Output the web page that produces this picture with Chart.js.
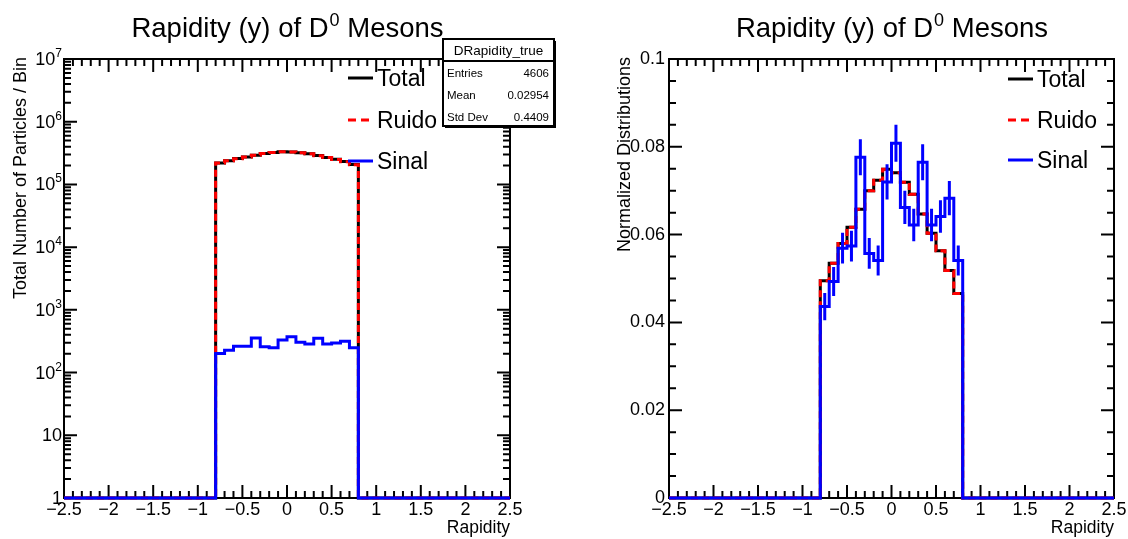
<!DOCTYPE html>
<html>
<head>
<meta charset="utf-8">
<script src="https://cdn.jsdelivr.net/npm/chart.js@4.4.1/dist/chart.umd.min.js"></script>
<style>
  html, body { margin: 0; padding: 0; background: #fff; }
  #wrap { position: relative; width: 1128px; height: 539px; }
  canvas { position: absolute; top: 0; }
  #left { left: 0; }
  #right { left: 564px; }
</style>
</head>
<body>
<div id="wrap">
  <canvas id="left" width="564" height="539"></canvas>
  <canvas id="right" width="564" height="539"></canvas>
</div>
<script>
// histogram range and the filled bins (width 0.1)
const xRange = [-2.5, 2.5];
const binEdges = [-0.8, -0.7, -0.6, -0.5, -0.4, -0.3, -0.2, -0.1, 0, 0.1, 0.2, 0.3, 0.4, 0.5, 0.6, 0.7, 0.8];

// left pad: counts per bin (log scale)
const totalCounts = [220000, 238000, 258000, 275000, 293000, 312000, 322000, 333000, 330000, 320000, 308000, 288000, 268000, 251000, 231000, 207000];
const ruidoCounts = [219800, 237770, 257740, 274740, 292640, 311740, 321750, 332670, 329630, 319700, 307710, 287650, 267710, 250700, 230690, 206750];
const sinalCounts = [201, 227, 262, 264, 357, 257, 249, 332, 372, 305, 286, 352, 286, 295, 315, 249];

// right pad: normalized distributions
const totalNorm = [0.0495, 0.0535, 0.0580, 0.0617, 0.0658, 0.0700, 0.0724, 0.0749, 0.0741, 0.0719, 0.0692, 0.0647, 0.0603, 0.0563, 0.0518, 0.0466];
const ruidoNorm = [0.0495, 0.0535, 0.0580, 0.0617, 0.0658, 0.0700, 0.0724, 0.0749, 0.0741, 0.0719, 0.0692, 0.0647, 0.0603, 0.0563, 0.0518, 0.0466];
const sinalNorm = [0.0436, 0.0493, 0.0569, 0.0574, 0.0776, 0.0557, 0.0541, 0.0720, 0.0808, 0.0662, 0.0622, 0.0765, 0.0622, 0.0641, 0.0683, 0.0541];
const sinalNormErr = [0.0031, 0.0033, 0.0035, 0.0035, 0.0041, 0.0035, 0.0034, 0.0040, 0.0042, 0.0038, 0.0037, 0.0041, 0.0037, 0.0037, 0.0039, 0.0034];

// axis ticks
const xMajorTicks = [-2.5, -2, -1.5, -1, -0.5, 0, 0.5, 1, 1.5, 2, 2.5];
const logDecades = [0, 1, 2, 3, 4, 5, 6, 7];
const normTicks = [0, 0.02, 0.04, 0.06, 0.08, 0.1];

const legendLabels = ['Total', 'Ruido', 'Sinal'];
const statsTitle = 'DRapidity_true';
const statsRows = [['Entries', '4606'], ['Mean', '0.02954'], ['Std Dev', '0.4409']];

const FONT = "'Liberation Sans', Arial, Helvetica, sans-serif";
Chart.defaults.font.family = FONT;
Chart.defaults.color = '#000';

// empty bins sit on the axis floor (like ROOT does on a log pad)
function stepPoints(values, floor) {
  const last = binEdges[binEdges.length - 1];
  const pts = [{ x: xRange[0], y: floor }, { x: binEdges[0], y: floor }];
  values.forEach((v, i) => {
    pts.push({ x: binEdges[i], y: v });
    pts.push({ x: binEdges[i + 1], y: v });
  });
  pts.push({ x: last, y: floor }, { x: xRange[1], y: floor });
  return pts;
}

function datasets(total, ruido, sinal, floor) {
  const base = { pointRadius: 0, borderWidth: 3, tension: 0, fill: false, clip: 4, borderJoinStyle: 'miter' };
  return [
    Object.assign({ label: legendLabels[0], data: stepPoints(total, floor), borderColor: '#000000', order: 3 }, base),
    Object.assign({ label: legendLabels[1], data: stepPoints(ruido, floor), borderColor: '#ff0000', borderDash: [7, 4], order: 2 }, base),
    Object.assign({ label: legendLabels[2], data: stepPoints(sinal, floor), borderColor: '#0000ff', order: 1 }, base)
  ];
}

function fmtNum(v) {
  return (v < 0 ? '\u2212' : '') + String(Math.abs(Math.round(v * 100) / 100));
}

// ROOT-like frame with inward ticks on all four sides
const rootFrame = {
  id: 'rootFrame',
  beforeDatasetsDraw(chart, args, opts) {
    const { ctx, chartArea: a, scales: { x, y } } = chart;
    ctx.save();
    ctx.strokeStyle = '#000';
    ctx.lineWidth = 2;
    ctx.strokeRect(a.left, a.top, a.right - a.left, a.bottom - a.top);
    ctx.beginPath();
    for (let i = 0; i <= 50; i++) {
      const px = x.getPixelForValue(xRange[0] + i * 0.1);
      const len = i % 5 === 0 ? 13 : 7;
      ctx.moveTo(px, a.bottom); ctx.lineTo(px, a.bottom - len);
      ctx.moveTo(px, a.top); ctx.lineTo(px, a.top + len);
    }
    opts.yTicks().forEach(([v, major]) => {
      const py = y.getPixelForValue(v);
      const len = major ? 13 : 7;
      ctx.moveTo(a.left, py); ctx.lineTo(a.left + len, py);
      ctx.moveTo(a.right, py); ctx.lineTo(a.right - len, py);
    });
    ctx.stroke();
    ctx.restore();
  },
  afterDatasetsDraw(chart, args, opts) {
    if (!opts.errors) return;
    const { ctx, scales: { x, y } } = chart;
    const e = opts.errors;
    ctx.save();
    ctx.strokeStyle = '#0000ff';
    ctx.lineWidth = 3;
    ctx.beginPath();
    e.values.forEach((v, i) => {
      const cx = x.getPixelForValue((binEdges[i] + binEdges[i + 1]) / 2);
      ctx.moveTo(cx, y.getPixelForValue(v - e.err[i]));
      ctx.lineTo(cx, y.getPixelForValue(v + e.err[i]));
    });
    ctx.stroke();
    ctx.restore();
  },
  afterDraw(chart, args, opts) {
    const { ctx, chartArea: a, scales: { y } } = chart;
    ctx.save();
    ctx.fillStyle = '#000';
    ctx.textBaseline = 'alphabetic';

    // title with superscript
    const t1 = 'Rapidity (y) of D', t2 = '0', t3 = ' Mesons';
    ctx.font = '27.5px ' + FONT;
    const w1 = ctx.measureText(t1).width, w3 = ctx.measureText(t3).width;
    ctx.font = '18px ' + FONT;
    const w2 = ctx.measureText(t2).width;
    const tx = (a.left + a.right) / 2 - (w1 + w2 + w3) / 2;
    ctx.textAlign = 'left';
    ctx.font = '27.5px ' + FONT;
    ctx.fillText(t1, tx, 37);
    ctx.font = '18px ' + FONT;
    ctx.fillText(t2, tx + w1 + 1, 26);
    ctx.font = '27.5px ' + FONT;
    ctx.fillText(t3, tx + w1 + w2 + 1, 37);

    // axis titles
    ctx.font = '17.5px ' + FONT;
    ctx.textAlign = 'right';
    ctx.fillText('Rapidity', a.right, 533);
    ctx.save();
    ctx.translate(opts.yTitleX, a.top - 2);
    ctx.rotate(-Math.PI / 2);
    ctx.font = '18px ' + FONT;
    ctx.textAlign = 'right';
    ctx.fillText(opts.yTitle, 0, 0);
    ctx.restore();

    // log labels 1, 10, 10^n
    if (opts.logLabels) {
      const rx = a.left - 2;
      logDecades.forEach(d => {
        const py = y.getPixelForValue(Math.pow(10, d));
        ctx.textAlign = 'right';
        if (d < 2) {
          ctx.font = '18px ' + FONT;
          ctx.fillText(d === 0 ? '1' : '10', rx, py + 6);
        } else {
          ctx.font = '12px ' + FONT;
          const sw = ctx.measureText(String(d)).width;
          ctx.fillText(String(d), rx, py - 2);
          ctx.font = '18px ' + FONT;
          ctx.fillText('10', rx - sw, py + 6);
        }
      });
    }

    // legend
    const lg = opts.legend;
    chart.data.datasets.forEach((ds, i) => {
      const ly = lg.rows[i];
      ctx.save();
      ctx.strokeStyle = ds.borderColor;
      ctx.lineWidth = 3;
      if (ds.borderDash) ctx.setLineDash([8, 5]);
      ctx.beginPath();
      ctx.moveTo(lg.x0, ly); ctx.lineTo(lg.x1, ly);
      ctx.stroke();
      ctx.restore();
      ctx.font = '23px ' + FONT;
      ctx.textAlign = 'left';
      ctx.fillText(ds.label, lg.x1 + 4, ly + 8);
    });

    // stats box
    if (opts.stats) {
      const s = opts.stats;
      ctx.fillStyle = '#000';
      ctx.fillRect(s.x + 2, s.y + 2, s.w, s.h);
      ctx.fillStyle = '#fff';
      ctx.fillRect(s.x, s.y, s.w, s.h);
      ctx.strokeStyle = '#000';
      ctx.lineWidth = 2;
      ctx.strokeRect(s.x, s.y, s.w, s.h);
      ctx.beginPath();
      ctx.moveTo(s.x, s.y + 22); ctx.lineTo(s.x + s.w, s.y + 22);
      ctx.stroke();
      ctx.fillStyle = '#000';
      ctx.font = '13.5px ' + FONT;
      ctx.textAlign = 'center';
      ctx.fillText(statsTitle, s.x + s.w / 2, s.y + 16);
      ctx.font = '11.5px ' + FONT;
      statsRows.forEach(([k, v], i) => {
        const ry = s.y + 38 + i * 22;
        ctx.textAlign = 'left';
        ctx.fillText(k, s.x + 4, ry);
        ctx.textAlign = 'right';
        ctx.fillText(v, s.x + s.w - 5, ry);
      });
    }
    ctx.restore();
  }
};

function xScale() {
  return {
    type: 'linear', min: xRange[0], max: xRange[1],
    afterBuildTicks: s => { s.ticks = xMajorTicks.map(v => ({ value: v })); },
    ticks: { callback: v => fmtNum(v), font: { size: 18 }, padding: 1, maxRotation: 0, autoSkip: false },
    grid: { display: false, drawTicks: false, tickLength: 0 },
    border: { display: false },
    afterFit: s => { s.height = 41; }
  };
}

const logMin = 1, logMax = 1e7;

// left pad: absolute counts, log y
new Chart(document.getElementById('left'), {
  type: 'line',
  data: { datasets: datasets(totalCounts, ruidoCounts, sinalCounts, logMin) },
  options: {
    responsive: false, animation: false, devicePixelRatio: 1,
    layout: { padding: { left: 0, right: 54, top: 59, bottom: 0 } },
    plugins: {
      legend: { display: false }, tooltip: { enabled: false },
      rootFrame: {
        yTicks: () => {
          const t = [];
          logDecades.forEach(d => {
            if (d === 7) { t.push([logMax, true]); return; }
            for (let k = 1; k <= 9; k++) t.push([k * Math.pow(10, d), k === 1]);
          });
          return t;
        },
        logLabels: true,
        yTitle: 'Total Number of Particles / Bin', yTitleX: 26,
        legend: { x0: 348, x1: 373, rows: [78, 120, 161] },
        stats: { x: 443, y: 39, w: 111, h: 87 }
      }
    },
    scales: {
      x: xScale(),
      y: {
        type: 'logarithmic', min: logMin, max: logMax,
        ticks: { display: false },
        grid: { display: false, drawTicks: false, tickLength: 0 },
        border: { display: false },
        afterFit: s => { s.width = 64; }
      }
    }
  },
  plugins: [rootFrame]
});

// right pad: normalized distributions, linear y
new Chart(document.getElementById('right'), {
  type: 'line',
  data: { datasets: datasets(totalNorm, ruidoNorm, sinalNorm, 0) },
  options: {
    responsive: false, animation: false, devicePixelRatio: 1,
    layout: { padding: { left: 0, right: 14, top: 59, bottom: 0 } },
    plugins: {
      legend: { display: false }, tooltip: { enabled: false },
      rootFrame: {
        yTicks: () => {
          const t = [];
          for (let i = 0; i <= 20; i++) t.push([i * 0.005, i % 4 === 0]);
          return t;
        },
        errors: { values: sinalNorm, err: sinalNormErr },
        yTitle: 'Normalized Distributions', yTitleX: 66,
        legend: { x0: 444, x1: 469, rows: [79, 120, 160] }
      }
    },
    scales: {
      x: xScale(),
      y: {
        type: 'linear', min: 0, max: 0.1,
        afterBuildTicks: s => { s.ticks = normTicks.map(v => ({ value: v })); },
        ticks: { callback: v => String(Math.round(v * 100) / 100), font: { size: 18 }, padding: 4 },
        grid: { display: false, drawTicks: false, tickLength: 0 },
        border: { display: false },
        afterFit: s => { s.width = 105; }
      }
    }
  },
  plugins: [rootFrame]
});
</script>
</body>
</html>
